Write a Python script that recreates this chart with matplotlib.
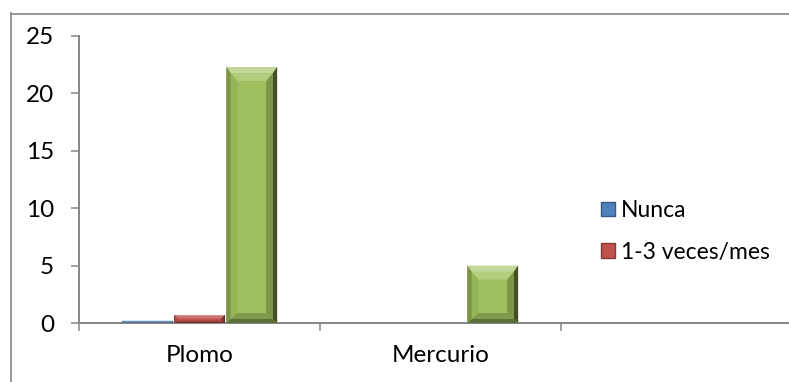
import numpy as np
import matplotlib.pyplot as plt
from matplotlib.patches import Polygon, Patch
from matplotlib.lines import Line2D
from matplotlib.colors import to_rgb

plt.rcParams['font.family'] = ['Lato', 'DejaVu Sans']

categories = ["Plomo", "Mercurio", ""]
nunca = [0.2, 0, 0]
veces_1_3 = [0.7, 0, 0]
serie3 = [22.3, 5, 0]
legend_labels = ["Nunca", "1-3 veces/mes"]
yticks = [0, 5, 10, 15, 20, 25]

blue = "#4F81BD"
red = "#C0504D"
green = "#A0BF5E"
axis_gray = "#868686"
fs = 17.5


def shade(color, f):
    c = np.array(to_rgb(color))
    if f >= 0:
        return tuple(c + (1 - c) * f)
    return tuple(c * (1 + f))


def band(ax, outer, inner, color):
    ax.add_patch(Polygon(outer + inner[::-1], closed=True, facecolor=color,
                         edgecolor='none', zorder=3))


def bevel(ax, bar, color):
    # Excel-like bevel: light top strip, darker sides, dark bottom
    x0, y0 = bar.get_x(), bar.get_y()
    w, h = bar.get_width(), bar.get_height()
    if h <= 0:
        return
    (px0, py0), (px1, py1) = ax.transData.transform([(x0, y0), (x0 + w, y0 + h)])
    hp = py1 - py0
    wp = px1 - px0
    top = min(14, hp * 0.45)
    bot = min(10, hp * 0.3)
    side = min(11, hp * 0.5)
    inv = ax.transData.inverted()

    def pt(dx, dy):
        return tuple(inv.transform((px0 + dx, py0 + dy)))

    # layered strips give a rough gradient
    steps = [
        (0, 0, 0, 0),
        (top * 0.45, side * 0.4, side * 0.4, bot * 0.4),
        (top, side, side, bot),
    ]
    cols = [
        (shade(color, 0.38), shade(color, -0.22), shade(color, -0.58), shade(color, -0.42)),
        (shade(color, 0.2), shade(color, -0.06), shade(color, -0.22), shade(color, -0.2)),
    ]
    for k in range(2):
        t0, l0, r0, b0 = steps[k]
        t1, l1, r1, b1 = steps[k + 1]
        o = [pt(l0, b0), pt(l0, hp - t0), pt(wp - r0, hp - t0), pt(wp - r0, b0)]
        i = [pt(l1, b1), pt(l1, hp - t1), pt(wp - r1, hp - t1), pt(wp - r1, b1)]
        ct, cl, cr, cb = cols[k]
        band(ax, [o[1], o[2]], [i[1], i[2]], ct)
        band(ax, [o[0], o[1]], [i[0], i[1]], cl)
        band(ax, [o[2], o[3]], [i[2], i[3]], cr)
        band(ax, [o[3], o[0]], [i[3], i[0]], cb)


fig = plt.figure(figsize=(7.89, 3.82), dpi=100)
ax = fig.add_axes([79 / 789, 59 / 382, 723 / 789, 287 / 382])

x = np.arange(len(categories)) + 0.5
bw = 0.217
series = [(nunca, blue), (veces_1_3, red), (serie3, green)]

ax.set_xlim(0, 3)
ax.set_ylim(0, 25)

for i, (vals, col) in enumerate(series):
    bars = ax.bar(x + (i - 1) * bw, vals, width=bw * 0.97, color=col, zorder=2)
    for bar in bars:
        bevel(ax, bar, col)

ax.set_yticks(yticks)
ax.set_xticks(x)
ax.set_xticklabels(categories)
ax.set_xticks([0, 1, 2, 3], minor=True)
ax.tick_params(axis='x', which='major', length=0, pad=16, labelsize=fs)
ax.tick_params(axis='x', which='minor', length=6, width=1.1, color=axis_gray, direction='out')
ax.tick_params(axis='y', length=6, width=1.1, color=axis_gray, pad=12, labelsize=fs)

for s in ['top', 'right']:
    ax.spines[s].set_visible(False)
for s in ['left', 'bottom']:
    ax.spines[s].set_color(axis_gray)
    ax.spines[s].set_linewidth(1.4)

handles = [Patch(facecolor=blue, edgecolor=shade(blue, -0.3)),
           Patch(facecolor=red, edgecolor=shade(red, -0.3))]
fig.legend(handles, legend_labels, loc='upper left', bbox_to_anchor=(601 / 789, 1 - 200 / 382),
           frameon=False, fontsize=16.5, handlelength=0.62, handleheight=0.62,
           handletextpad=0.25, labelspacing=0.9, borderpad=0, borderaxespad=0)

# outer chart border (only left and top edges fall inside the image)
fig.add_artist(Line2D([10.5 / 789, 10.5 / 789], [0, 1 - 13 / 382], color=axis_gray, lw=1.2))
fig.add_artist(Line2D([10.5 / 789, 1], [1 - 13.5 / 382, 1 - 13.5 / 382], color=axis_gray, lw=1.2))

fig.savefig("out.png", dpi=100)
